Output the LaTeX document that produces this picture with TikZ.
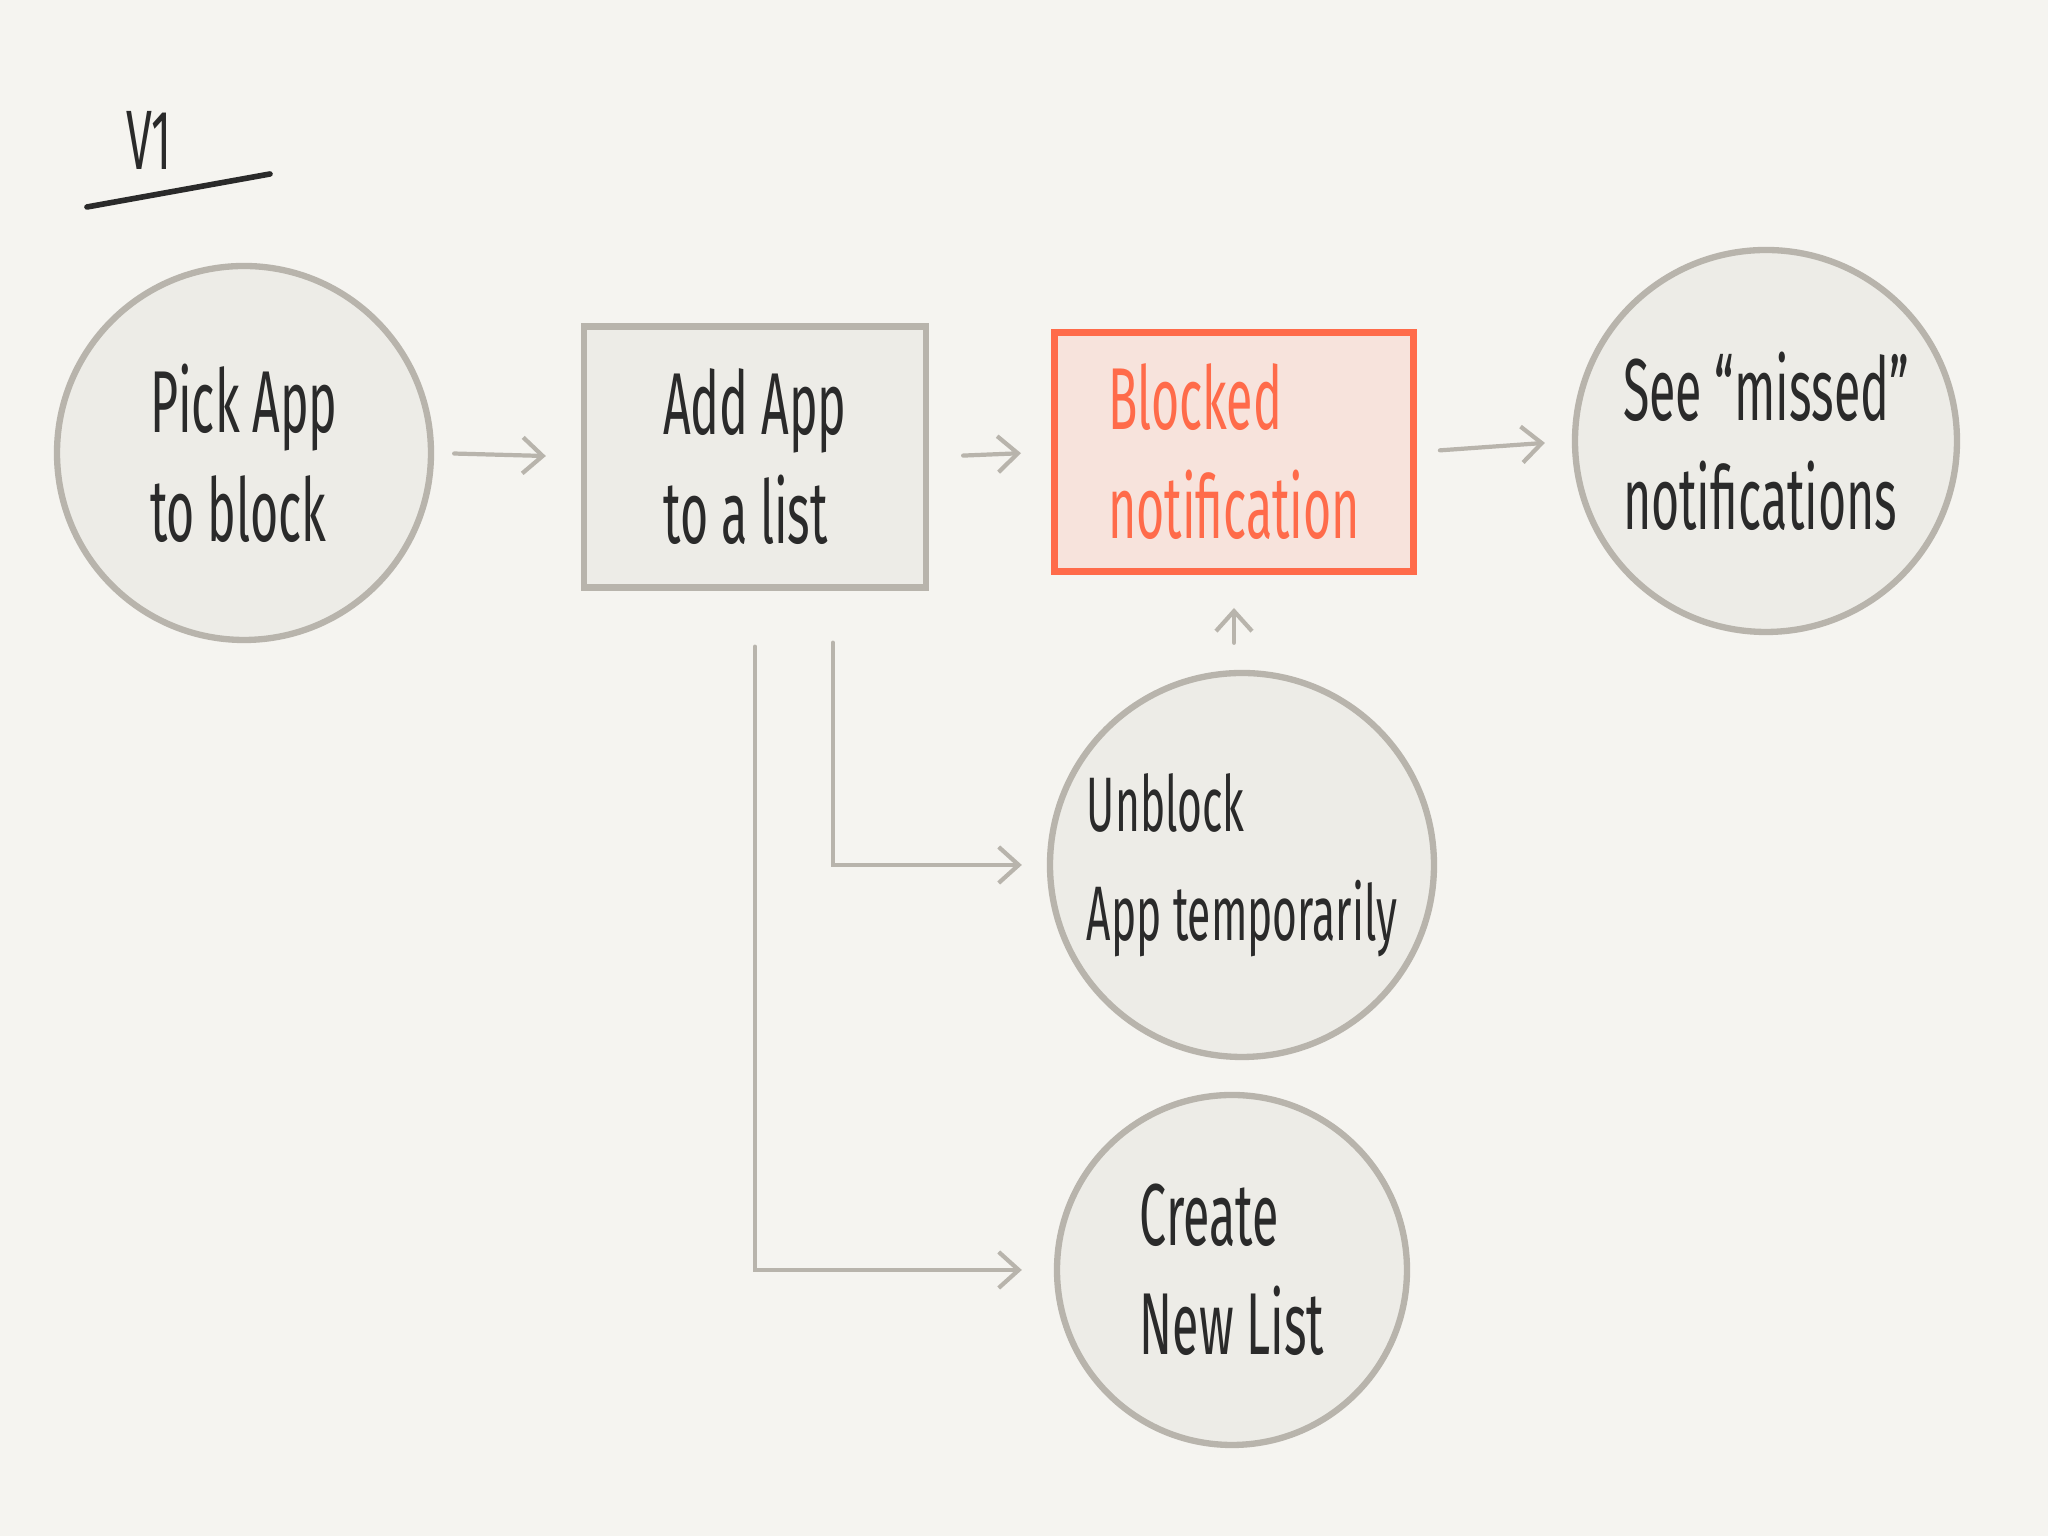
\documentclass[tikz,border=0pt]{standalone}
\usepackage{fontspec}
\setmainfont{Fira Sans}[FakeStretch=0.55]
\usetikzlibrary{
  arrows.meta,
  calc
}
\definecolor{paper}{HTML}{F5F4F0}
\definecolor{shapefill}{HTML}{EDECE7}
\definecolor{pencil}{HTML}{B8B4AC}
\definecolor{ink}{HTML}{2A2A2A}
\definecolor{alert}{HTML}{FF6B4A}
\definecolor{alertfill}{HTML}{F7E3DC}

\begin{document}
\begin{tikzpicture}[
  font=\fontsize{25}{31}\selectfont,
  stepcircle/.style={
    circle, draw=pencil, fill=shapefill, line width=1.8pt,
    inner sep=0pt, align=left, text=ink
  },
  stepbox/.style={
    rectangle, draw=pencil, fill=shapefill, line width=1.8pt,
    inner sep=0pt, align=left, text=ink
  },
  alertbox/.style={
    rectangle, draw=alert, fill=alertfill, line width=2pt,
    inner sep=0pt, align=left, text=alert
  },
  flow/.style={-{Straight Barb[length=2mm,width=3.6mm]}, pencil, line width=1.2pt, line cap=round},
]

% Paper
\useasboundingbox[fill=paper] (0,0) rectangle (20.48,15.36);

% Version tag
\node[text=ink, font=\fontsize{24}{28}\selectfont] (version) at (1.49,13.96) {V1};
\coordinate (ulL) at (0.87,13.29);
\coordinate (ulR) at (2.70,13.62);
\draw[ink, line width=1.6pt, line cap=round] (ulL) -- (ulR);

% Main row
\node[stepcircle, minimum size=3.74cm] (pick)    at (2.44,10.83) {Pick App\\to block};
\node[stepbox, minimum width=3.42cm, minimum height=2.61cm] (addlist) at (7.55,10.79) {Add App\\to a list};
\node[alertbox, minimum width=3.59cm, minimum height=2.39cm] (blocked) at (12.34,10.84) {Blocked\\notification};
\node[stepcircle, minimum size=3.82cm] (missed)  at (17.66,10.95) {See ``missed''\\notifications};

% Side steps
\node[stepcircle, minimum size=3.84cm, font=\fontsize{22}{31}\selectfont] (unblock) at (12.42,6.71) {Unblock\\App temporarily};
\node[stepcircle, minimum size=3.50cm] (newlist) at (12.32,2.66) {Create\\New List};

% Flows
\draw[flow, shorten <=0.2cm, shorten >=0.35cm] (pick.east) -- (addlist.west);
\draw[flow, shorten <=0.34cm, shorten >=0.3cm] (addlist.east) -- (blocked.west);
\draw[flow, shorten <=0.23cm, shorten >=0.27cm] (blocked.east) -- (missed.west);
\draw[flow, shorten <=0.27cm, shorten >=0.33cm] (blocked.south |- unblock.north) -- (blocked.south);

% Branches from the list
\coordinate (tapA) at ($(addlist.south)+(0.78,-0.52)$);
\coordinate (tapB) at ($(addlist.south)+(0,-0.56)$);
\draw[flow, shorten >=0.25cm] (tapA) |- (unblock.west);
\draw[flow, shorten >=0.32cm] (tapB) |- (newlist.west);

\end{tikzpicture}
\end{document}
